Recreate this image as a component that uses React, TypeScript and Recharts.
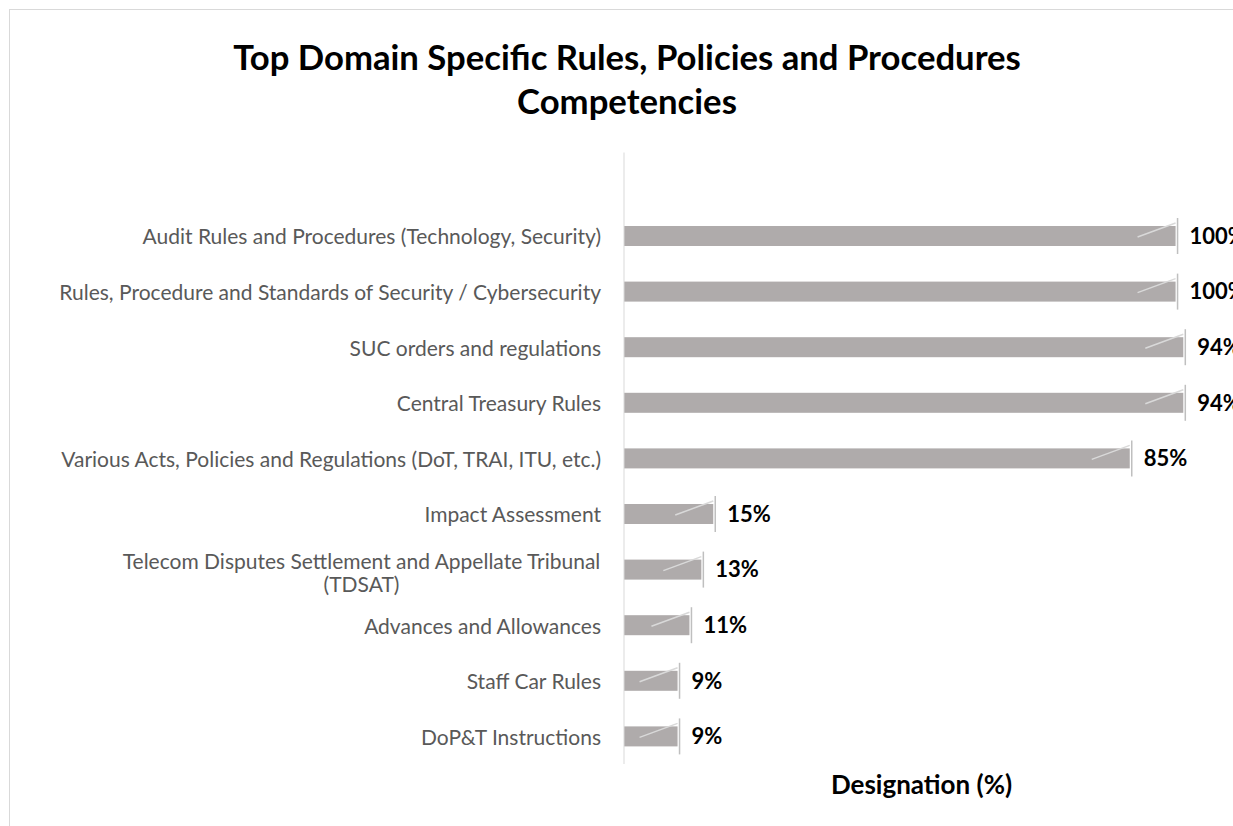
import React from "react";
import { BarChart, Bar, XAxis, YAxis, LabelList, Label } from "recharts";

const categories = [
  "Audit Rules and Procedures (Technology, Security)",
  "Rules, Procedure and Standards of Security / Cybersecurity",
  "SUC orders and regulations",
  "Central Treasury Rules",
  "Various Acts, Policies and Regulations (DoT, TRAI, ITU, etc.)",
  "Impact Assessment",
  "Telecom Disputes Settlement and Appellate Tribunal (TDSAT)",
  "Advances and Allowances",
  "Staff Car Rules",
  "DoP&T Instructions",
];
const values = [92.7, 92.7, 94, 94, 85, 15, 13, 11, 9, 9];
const valueLabels = ["100%", "100%", "94%", "94%", "85%", "15%", "13%", "11%", "9%", "9%"];

const data = categories.map((name, i) => ({ name, value: values[i], label: valueLabels[i] }));

const FONT = "Lato, 'Open Sans', sans-serif";
const TICK_SIZE = 21;

let ctx: CanvasRenderingContext2D | null = null;
function measure(text: string): number {
  if (!ctx) {
    const c = document.createElement("canvas");
    ctx = c.getContext("2d");
  }
  if (!ctx) return text.length * 10;
  ctx.font = `${TICK_SIZE}px Lato`;
  return ctx.measureText(text).width;
}

function wrap(text: string, maxW: number): string[] {
  const words = text.split(" ");
  const lines: string[] = [];
  let cur = "";
  for (const w of words) {
    const t = cur ? cur + " " + w : w;
    if (cur && measure(t) > maxW) {
      lines.push(cur);
      cur = w;
    } else cur = t;
  }
  if (cur) lines.push(cur);
  return lines;
}

const CategoryTick = (props: any) => {
  const { x, y, payload } = props;
  const lines = wrap(String(payload.value), 550);
  if (lines.length === 1) {
    return (
      <text x={x} y={y} textAnchor="end" dominantBaseline="central" fill="#595959" fontSize={TICK_SIZE} fontFamily={FONT}>
        {lines[0]}
      </text>
    );
  }
  const w1 = measure(lines[0]);
  const cx = x - w1 / 2;
  const lh = 23;
  return (
    <g>
      {lines.map((l, i) => (
        <text key={i} x={cx} y={y + 3 + (i - (lines.length - 1) / 2) * lh} textAnchor="middle" dominantBaseline="central" fill="#595959" fontSize={TICK_SIZE} fontFamily={FONT}>
          {l}
        </text>
      ))}
    </g>
  );
};

const BarShape = (props: any) => {
  const { x, y, width, height, fill } = props;
  const ex = x + width;
  return (
    <g>
      <rect x={x} y={y} width={width} height={height} fill={fill} />
      <line x1={ex - 38} y1={y + height * 0.55} x2={ex} y2={y - 3} stroke="#d9d9d9" strokeWidth={1.5} />
      <line x1={ex + 2} x2={ex + 2} y1={y - 8} y2={y + height + 8} stroke="#bfbfbf" strokeWidth={1.5} />
    </g>
  );
};

export default function App() {
  return (
    <div style={{ position: "fixed", left: 0, top: 0, width: 1233, height: 826, overflow: "hidden", background: "#fff" }}>
      <div style={{ position: "absolute", left: 9, top: 9, width: 1400, height: 1000, border: "1px solid #d9d9d9" }} />
      <div style={{ position: "absolute", left: 8, top: 8 }}>
        <BarChart
          width={1225}
          height={818}
          data={data}
          layout="vertical"
          margin={{ top: 144.5, right: 14, bottom: 22, left: 0 }}
        >
          <XAxis type="number" domain={[0, 100]} tick={false} axisLine={false} tickLine={false} height={40}>
            <Label value="Designation (%)" position="insideTop" offset={12} style={{ fontFamily: FONT, fontWeight: 700, fontSize: 26, fill: "#000" }} />
          </XAxis>
          <YAxis
            type="category"
            dataKey="name"
            width={616}
            padding={{ top: 55.5, bottom: 0 }}
            axisLine={{ stroke: "#d9d9d9", strokeWidth: 1 }}
            tickLine={false}
            tickSize={0}
            tickMargin={23}
            tick={<CategoryTick />}
            interval={0}
          />
          <Bar dataKey="value" fill="#afabab" barSize={20} isAnimationActive={false} shape={<BarShape />}>
            <LabelList dataKey="label" position="right" offset={14} style={{ fontFamily: FONT, fontWeight: 700, fontSize: 22, fill: "#000" }} />
          </Bar>
        </BarChart>
      </div>
      <div
        style={{
          position: "absolute",
          left: 8,
          top: 35,
          width: 1238,
          textAlign: "center",
          fontFamily: FONT,
          fontWeight: 700,
          fontSize: 34.7,
          lineHeight: "44px",
          color: "#000",
        }}
      >
        Top Domain Specific Rules, Policies and Procedures
        <br />
        Competencies
      </div>
    </div>
  );
}
